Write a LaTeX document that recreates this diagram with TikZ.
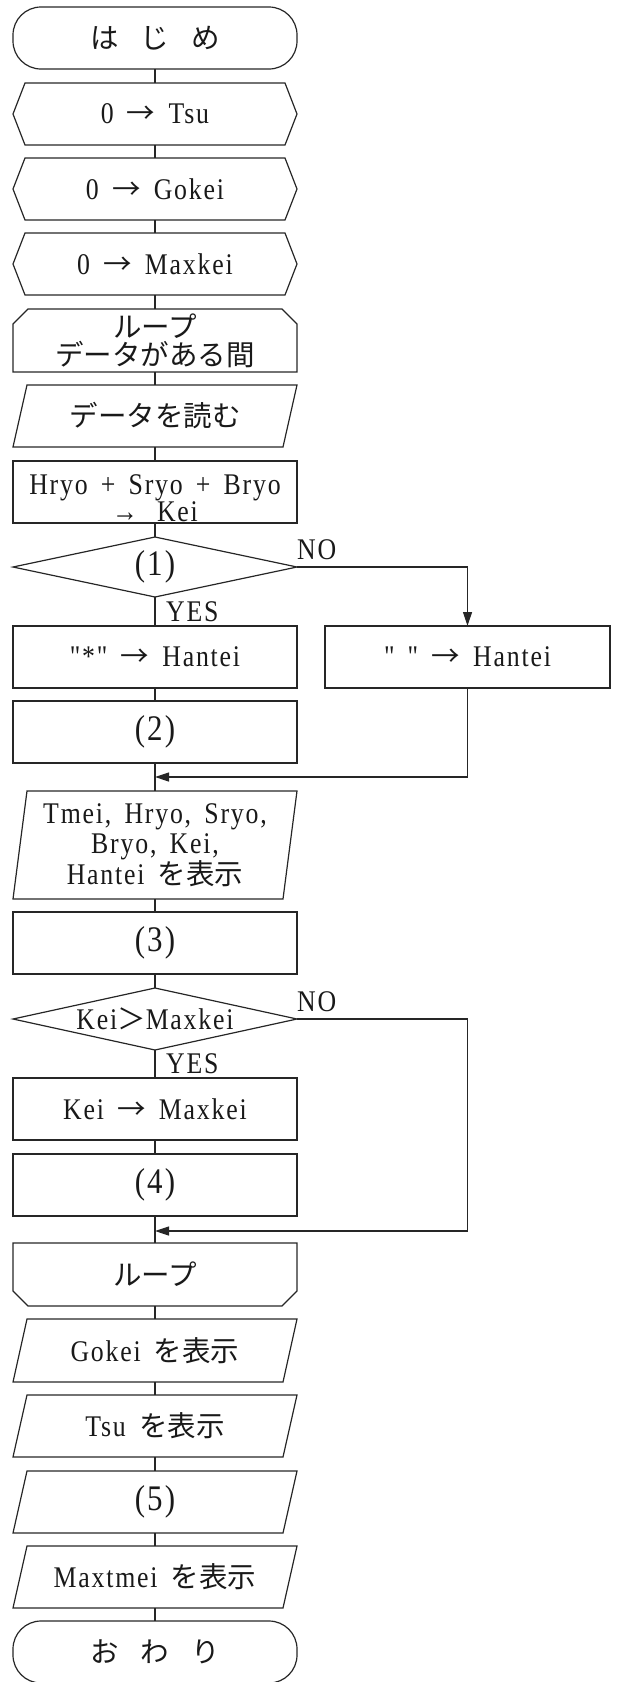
\documentclass[tikz,border=0pt]{standalone}
\usepackage{fontspec}
\setmainfont{Liberation Serif}
\newfontfamily\lat[FakeStretch=0.86,LetterSpace=6,WordSpace=1.6,Ligatures=TeXOff]{Liberation Serif}
\newfontfamily\jp[Scale=0.95]{Noto Sans CJK JP}
\usetikzlibrary{arrows.meta}
\newcommand\FChex[1]{\draw[ln] ([xshift=12pt]#1.north west) -- ([xshift=-12pt]#1.north east) -- (#1.east) -- ([xshift=-12pt]#1.south east) -- ([xshift=12pt]#1.south west) -- (#1.west) -- cycle;}
\newcommand\FCpara[1]{\draw[ln] ([xshift=14pt]#1.north west) -- (#1.north east) -- ([xshift=-14pt]#1.south east) -- (#1.south west) -- cycle;}
\newcommand\FCloopA[1]{\draw[ln] ([yshift=-15pt]#1.north west) -- ([xshift=15pt]#1.north west) -- ([xshift=-15pt]#1.north east) -- ([yshift=-15pt]#1.north east) -- (#1.south east) -- (#1.south west) -- cycle;}
\newcommand\FCloopB[1]{\draw[ln] (#1.north west) -- (#1.north east) -- ([yshift=15pt]#1.south east) -- ([xshift=-15pt]#1.south east) -- ([xshift=15pt]#1.south west) -- ([yshift=15pt]#1.south west) -- cycle;}
\newcommand\FCdia[1]{\draw[ln] (#1.north) -- (#1.east) -- (#1.south) -- (#1.west) -- cycle;}
\begin{document}
\begin{tikzpicture}[x=1pt,y=-1pt,
  ln/.style={line width=1.2pt, draw=black!85},
  fbox/.style={minimum width=284pt, minimum height=62pt, inner sep=0pt, outer sep=0pt, align=center, font=\lat\fontsize{30}{30}\selectfont, text=black!90},
  rectbox/.style={fbox, draw=black!85, line width=1.2pt},
  termbox/.style={rectbox, rounded corners=28pt},
  big/.style={font=\lat\fontsize{36}{36}\selectfont},
  lab/.style={inner sep=0pt, font=\lat\fontsize{30}{30}\selectfont, text=black!90},
  arr/.style={ln, -{Triangle[length=14pt,width=9pt]}}]
\path[use as bounding box] (0,0) rectangle (618,1682);

\node[termbox] (start) at (155,38) {{\jp は\hspace{22pt}じ\hspace{22pt}め}};
\node[fbox] (h1) at (155,114) {0 {\jp →} Tsu};
\node[fbox] (h2) at (155,189) {0 {\jp →} Gokei};
\node[fbox] (h3) at (155,264) {0 {\jp →} Maxkei};
\node[fbox, minimum height=63pt, font=\lat\fontsize{30}{28}\selectfont] (ls) at (155,340.5) {{\jp ループ}\\{\jp データがある間}};
\node[fbox] (rd) at (155,416) {{\jp データを読む}};
\node[rectbox, font=\lat\fontsize{30}{25}\selectfont] (calc) at (155,492) {\rule{0pt}{32pt}Hryo + Sryo + Bryo\\→\hspace{6pt} Kei};
\node[fbox, big, minimum height=60pt] (d1) at (155,567) {(1)};
\node[rectbox] (star) at (155,657) {"*" {\jp →} Hantei};
\node[rectbox, minimum width=285pt] (sp) at (467.5,657) {" " {\jp →} Hantei};
\node[rectbox, big] (b2) at (155,732) {(2)};
\node[fbox, minimum height=108pt] (pr) at (155,845) {Tmei, Hryo, Sryo,\\Bryo, Kei,\\Hantei {\jp を表示}};
\node[rectbox, big] (b3) at (155,943) {(3)};
\node[fbox] (d2) at (155,1019) {Kei{\jp ＞}Maxkei};
\node[rectbox] (km) at (155,1109) {Kei {\jp →} Maxkei};
\node[rectbox, big] (b4) at (155,1185) {(4)};
\node[fbox, minimum height=63pt] (le) at (155,1274.5) {{\jp ループ}};
\node[fbox, minimum height=63pt] (go) at (155,1350.5) {Gokei {\jp を表示}};
\node[fbox] (ts) at (155,1426) {Tsu {\jp を表示}};
\node[fbox, big] (b5) at (155,1502) {(5)};
\node[fbox] (mt) at (155,1577) {Maxtmei {\jp を表示}};
\node[termbox] (end) at (155,1652) {{\jp お\hspace{22pt}わ\hspace{22pt}り}};

\FChex{h1} \FChex{h2} \FChex{h3}
\FCloopA{ls}
\FCpara{rd}
\FCdia{d1}
\FCpara{pr}
\FCdia{d2}
\FCloopB{le}
\FCpara{go} \FCpara{ts} \FCpara{b5} \FCpara{mt}

\node[lab, anchor=base west] (yes1) at (166,621.5) {YES};
\node[lab, anchor=base west] (no1) at (297,559) {NO};
\node[lab, anchor=base west] (yes2) at (166,1073.5) {YES};
\node[lab, anchor=base west] (no2) at (297,1011) {NO};

\coordinate (m1) at (155,777);
\coordinate (m2) at (155,1231);
\coordinate (r2) at (467.5,1231);

\draw[ln] (start.south) -- (h1.north);
\draw[ln] (h1.south) -- (h2.north);
\draw[ln] (h2.south) -- (h3.north);
\draw[ln] (h3.south) -- (ls.north);
\draw[ln] (ls.south) -- (rd.north);
\draw[ln] (rd.south) -- (calc.north);
\draw[ln] (calc.south) -- (d1.north);
\draw[ln] (d1.south) -- (star.north);
\draw[ln] (star.south) -- (b2.north);
\draw[ln] (b2.south) -- (pr.north);
\draw[ln] (pr.south) -- (b3.north);
\draw[ln] (b3.south) -- (d2.north);
\draw[ln] (d2.south) -- (km.north);
\draw[ln] (km.south) -- (b4.north);
\draw[ln] (b4.south) -- (le.north);
\draw[ln] (le.south) -- (go.north);
\draw[ln] (go.south) -- (ts.north);
\draw[ln] (ts.south) -- (b5.north);
\draw[ln] (b5.south) -- (mt.north);
\draw[ln] (mt.south) -- (end.north);
\draw[arr] (d1.east) -| (sp.north);
\draw[arr] (sp.south) |- (m1);
\draw[arr] (d2.east) -| (r2) -- (m2);
\end{tikzpicture}
\end{document}
